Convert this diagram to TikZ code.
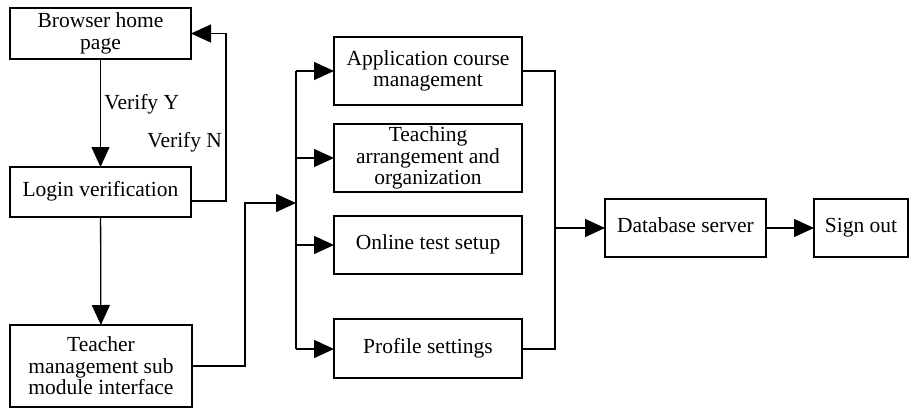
\documentclass[tikz,border=0pt]{standalone}
\usepackage{fontspec}
\setmainfont{Liberation Serif}
\usepackage{tikz}
\usetikzlibrary{arrows.meta}

\tikzset{
  box/.style={draw, line width=1.3pt, inner sep=0pt, outer sep=0pt, align=center},
  oneline/.style={text height=14pt, text depth=5pt},
  >={Triangle[length=20pt, width=18pt]}
}

\begin{document}
\begin{tikzpicture}[x=1pt, y=-1pt, line width=1.3pt, font=\fontsize{21.5}{21.5}\selectfont]
    \useasboundingbox (0,0) rectangle (910,408);
    % left column
    \node[box, minimum width=181pt, minimum height=51pt] (B) at (100.5,33.5){Browser home\\page};
    \node[box, oneline, minimum width=181pt, minimum height=50pt] (L) at (100.5,192){Login verification};
    \node[box, minimum width=182pt, minimum height=82pt] (T) at (101,366){Teacher\\management sub\\module interface};
    % sub modules
    \node[box, minimum width=188pt, minimum height=68pt] (A) at (428,71){Application course\\management};
    \node[box, minimum width=188pt, minimum height=68pt] (TA) at (428,158){Teaching\\arrangement and\\organization};
    \node[box, oneline, minimum width=188pt, minimum height=58pt] (OT) at (428,245){Online test setup};
    \node[box, oneline, minimum width=188pt, minimum height=59pt] (P) at (428,348.5){Profile settings};
    % right column
    \node[box, oneline, minimum width=161pt, minimum height=58pt] (D) at (685.5,228){Database server};
    \node[box, oneline, minimum width=94pt, minimum height=58pt] (S) at (861,228){Sign out};
    % bus points
    \coordinate (LB) at (296,71);
    \coordinate (LE) at (296,349);
    \coordinate (RB) at (555,71);
    \coordinate (RE) at (555,349);
    \coordinate (RD) at (555,228);
    \coordinate (N) at (226,201);
    \coordinate (M) at (245,366);
    \draw[->] (B)--(L) node[pos=0.42, right]{Verify Y};
    \draw[->] (L.east |- N)--(N)--(N |- B.east) node[pos=0.35, left]{Verify N}--(B.east);
    \draw[->] (L)--(T);
    \draw[->] (T.east)--(M)--(M |- 0,203)--(296,203);
    \draw (LB)--(LE);
    \draw[->] (LB)--(A.west);
    \draw[->] (LB |- TA.west)--(TA.west);
    \draw[->] (LB |- OT.west)--(OT.west);
    \draw[->] (LE)--(P.west |- LE);
    \draw (A.east)--(RB)--(RE)--(P.east |- RE);
    \draw[->] (RD)--(D.west);
    \draw[->] (D)--(S);
  \end{tikzpicture}
\end{document}
